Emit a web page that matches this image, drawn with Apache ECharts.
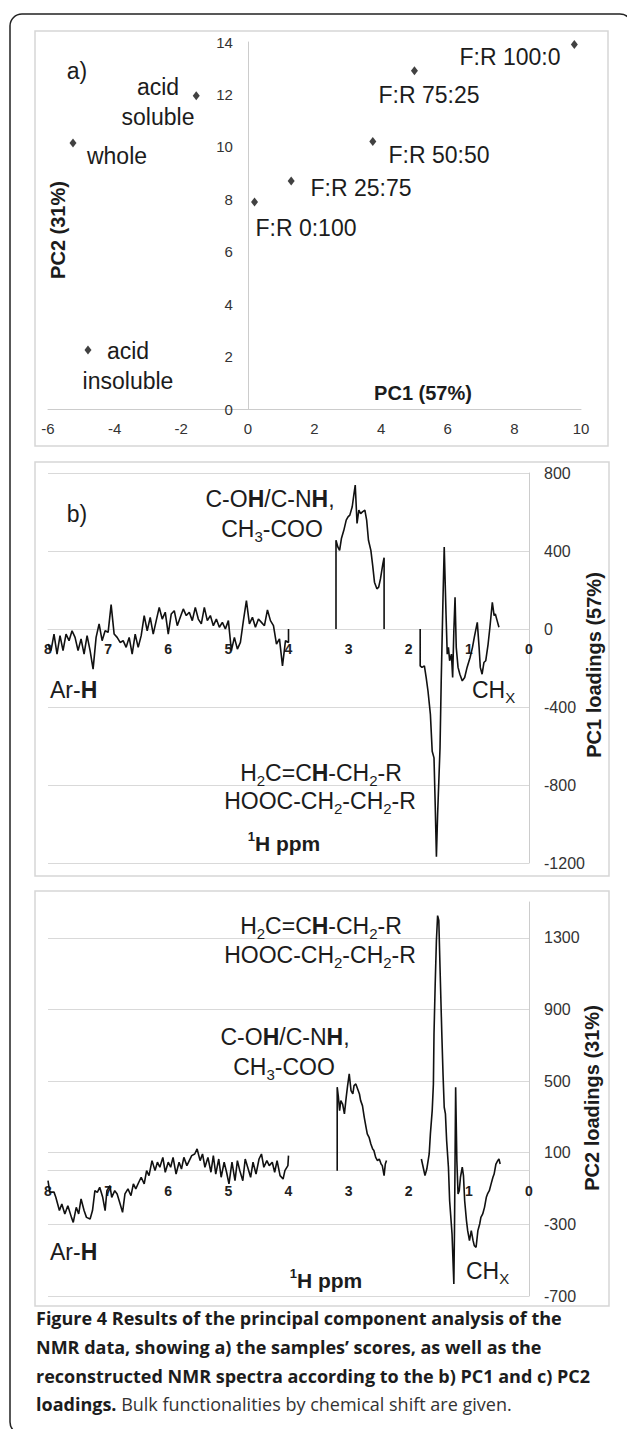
<!DOCTYPE html>
<html>
<head>
<meta charset="utf-8">
<title>Figure 4 - PCA of NMR data</title>
<script src="https://cdn.jsdelivr.net/npm/echarts@6.0.0/dist/echarts.min.js"></script>
<style>
  html, body { margin: 0; padding: 0; background: #fff; }
  #main { width: 627px; height: 1429px; }
</style>
</head>
<body>
<div id="main"></div>
<script>
// a) sample scores
const sampleNames = ['F:R 100:0', 'F:R 75:25', 'F:R 50:50', 'F:R 25:75', 'F:R 0:100', 'acid soluble', 'whole', 'acid insoluble'];
const pc1Scores = [9.8, 5.0, 3.75, 1.3, 0.2, -1.55, -5.25, -4.8];
const pc2Scores = [13.9, 12.9, 10.2, 8.7, 7.9, 11.95, 10.15, 2.25];

// b) PC1 loadings [ppm, value], three spectral windows
const pc1Aromatic = [[8.00,-77],[7.95,-111],[7.90,-26],[7.85,-129],[7.80,-34],[7.75,-111],[7.70,-26],[7.65,-60],[7.60,-9],[7.55,-43],[7.50,-111],[7.45,-51],[7.40,-129],[7.35,-34],[7.30,-111],[7.25,-206],[7.20,-43],[7.15,26],[7.10,-60],[7.05,-9],[7.00,-17],[6.95,125],[6.90,-26],[6.85,-43],[6.80,-69],[6.75,-60],[6.70,-94],[6.65,-43],[6.60,-129],[6.55,-26],[6.50,-94],[6.45,-34],[6.40,69],[6.35,-9],[6.30,60],[6.25,-26],[6.20,43],[6.15,111],[6.10,51],[6.05,86],[6.00,-26],[5.95,77],[5.90,94],[5.85,17],[5.80,60],[5.75,103],[5.70,69],[5.65,86],[5.60,43],[5.55,111],[5.50,51],[5.45,26],[5.40,111],[5.35,43],[5.30,69],[5.25,17],[5.20,51],[5.15,9],[5.10,34],[5.05,0],[5.00,43],[4.95,-111],[4.90,-43],[4.85,-103],[4.80,-69],[4.75,43],[4.70,146],[4.65,26],[4.60,60],[4.55,9],[4.50,51],[4.45,34],[4.40,17],[4.35,98],[4.30,43],[4.25,17],[4.20,-77],[4.15,-51],[4.10,-189],[4.05,-60],[4.00,-69],[4.00,0]];
const pc1Oxygenated = [[3.21,0],[3.21,455],[3.18,421],[3.15,403],[3.12,464],[3.08,506],[3.04,558],[3.01,575],[2.98,584],[2.94,627],[2.91,695],[2.89,738],[2.86,541],[2.83,610],[2.80,592],[2.77,601],[2.73,610],[2.70,558],[2.67,455],[2.63,403],[2.60,326],[2.57,240],[2.53,206],[2.50,215],[2.47,258],[2.43,335],[2.41,366],[2.41,0]];
const pc1Aliphatic = [[1.81,0],[1.81,-189],[1.78,-197],[1.74,-189],[1.71,-249],[1.68,-318],[1.64,-438],[1.61,-627],[1.58,-661],[1.56,-901],[1.54,-1168],[1.52,-953],[1.48,-610],[1.46,-266],[1.43,163],[1.41,421],[1.38,77],[1.36,-129],[1.34,-94],[1.32,-163],[1.29,-129],[1.27,-249],[1.25,-9],[1.23,163],[1.21,-94],[1.18,-197],[1.15,-232],[1.11,-266],[1.07,-249],[1.03,-197],[0.98,-146],[0.94,-94],[0.91,-43],[0.86,34],[0.83,-94],[0.81,-197],[0.78,-232],[0.75,-172],[0.72,-163],[0.68,-77],[0.65,9],[0.61,137],[0.58,69],[0.56,77],[0.53,43],[0.50,9]];

// c) PC2 loadings [ppm, value]
const pc2Aromatic = [[8.00,-56],[7.97,-120],[7.90,-120],[7.87,-149],[7.81,-223],[7.77,-186],[7.72,-242],[7.67,-196],[7.61,-261],[7.58,-289],[7.53,-205],[7.49,-242],[7.45,-158],[7.40,-223],[7.36,-261],[7.30,-270],[7.26,-223],[7.22,-112],[7.18,-121],[7.14,-93],[7.09,-149],[7.05,-223],[7.02,-112],[6.97,-84],[6.94,-149],[6.89,-112],[6.85,-130],[6.80,-186],[6.76,-233],[6.72,-130],[6.67,-102],[6.62,-140],[6.58,-74],[6.54,-102],[6.49,-65],[6.45,-37],[6.40,-74],[6.36,0],[6.32,-28],[6.27,56],[6.22,0],[6.18,47],[6.14,19],[6.09,74],[6.05,-9],[6.00,47],[5.96,19],[5.92,74],[5.87,-19],[5.82,47],[5.78,9],[5.74,74],[5.69,28],[5.65,56],[5.61,84],[5.56,93],[5.52,121],[5.47,56],[5.43,93],[5.39,19],[5.34,74],[5.29,-9],[5.25,84],[5.21,-19],[5.16,65],[5.12,-37],[5.07,47],[5.03,-9],[4.99,-74],[4.94,47],[4.89,-56],[4.85,56],[4.81,0],[4.76,-56],[4.72,65],[4.67,9],[4.63,-37],[4.59,47],[4.54,-19],[4.49,65],[4.45,93],[4.41,19],[4.36,56],[4.32,28],[4.27,47],[4.23,-9],[4.19,56],[4.14,-28],[4.09,-47],[4.06,0],[4.01,28],[4.00,84]];
const pc2Oxygenated = [[3.19,0],[3.19,466],[3.17,410],[3.15,335],[3.13,391],[3.10,372],[3.07,317],[3.04,410],[3.02,466],[2.99,540],[2.96,447],[2.93,428],[2.91,475],[2.88,484],[2.85,456],[2.82,428],[2.80,391],[2.77,363],[2.74,298],[2.71,242],[2.69,205],[2.66,186],[2.63,149],[2.60,121],[2.58,112],[2.55,74],[2.52,56],[2.49,65],[2.46,37],[2.44,28],[2.41,-28],[2.39,37],[2.37,56]];
const pc2Aliphatic = [[1.79,65],[1.76,19],[1.73,-28],[1.70,9],[1.66,93],[1.64,205],[1.61,335],[1.59,484],[1.58,763],[1.56,1043],[1.54,1285],[1.52,1424],[1.50,1397],[1.48,1136],[1.45,763],[1.43,540],[1.41,354],[1.39,317],[1.37,168],[1.34,19],[1.32,-168],[1.30,-261],[1.28,-354],[1.25,-633],[1.24,-354],[1.22,466],[1.20,56],[1.18,-130],[1.16,-112],[1.14,-37],[1.11,19],[1.09,-28],[1.07,-168],[1.04,-279],[1.02,-335],[0.99,-391],[0.96,-335],[0.93,-391],[0.91,-419],[0.88,-428],[0.85,-335],[0.82,-298],[0.80,-261],[0.77,-242],[0.74,-205],[0.71,-149],[0.69,-130],[0.66,-112],[0.63,-74],[0.60,-37],[0.58,-19],[0.55,37],[0.52,56],[0.50,65],[0.48,37]];

// axis ticks
const pc2LoadTicks = [-700, -300, 100, 500, 900, 1300];

const chartFont = 'Liberation Sans, Arial, sans-serif';
const ink = '#1c1c1c';
const gridGray = '#d9d9d9';
const axisGray = '#cccccc';

// grid boxes (px)
const gA = {left: 48, top: 42, width: 533, height: 367};
const gB = {left: 48, top: 473, width: 481, height: 390};
const gC = {left: 48, top: 902, width: 481, height: 394};

let myChart = echarts.init(document.getElementById('main'), null, {renderer: 'svg'});

// the crossing axes sit at zero: shift them in from the grid edge
const yZeroShiftA = -gA.width * (0 - (-6)) / (10 - (-6));
const xZeroShiftB = -gB.height * (0 - (-1200)) / (800 - (-1200));
const xZeroShiftC = -gC.height * (0 - (-700)) / (1500 - (-700));

// small helpers for the annotations
function txt(x, y, text, extra) {
  const style = Object.assign({
    text: text, fill: ink, fontFamily: chartFont, fontSize: 23,
    align: 'center', textAlign: 'center', verticalAlign: 'middle', textVerticalAlign: 'middle'
  }, extra || {});
  return {type: 'text', x: x, y: y, z: 10, silent: true, style: style};
}
function vtxt(x, y, text) {
  const el = txt(x, y, text, {fontSize: 20, fontWeight: 'bold'});
  el.rotation = Math.PI / 2;
  return el;
}
const chem = {
  b: {fontSize: 23, fontWeight: 'bold', fontFamily: chartFont, fill: ink, color: ink, lineHeight: 30},
  s: {fontSize: 15, fontFamily: chartFont, fill: ink, color: ink, lineHeight: 15, verticalAlign: 'bottom'}
};
function ctxt(x, y, text, align) {
  return txt(x, y, text, {rich: chem, lineHeight: 30, align: align || 'center', textAlign: align || 'center'});
}
function ppmLabel(x, y) {
  return txt(x, y, '{u|1}H ppm', {
    fontSize: 21, fontWeight: 'bold', lineHeight: 26,
    rich: {u: {fontSize: 13, fontWeight: 'bold', fontFamily: chartFont, fill: ink, color: ink, lineHeight: 13, verticalAlign: 'top'}}
  });
}
function box(x, y, w, h) {
  return {type: 'rect', z: 0, silent: true, shape: {x: x, y: y, width: w, height: h},
    style: {fill: 'none', stroke: '#d6d6d6', lineWidth: 1.5}};
}
function capLine(y, text, extra) {
  return txt(36, y, text, Object.assign({fontFamily: 'Open Sans, sans-serif', fontSize: 18, fontWeight: 'bold',
    align: 'left', textAlign: 'left'}, extra || {}));
}

function spectrum(data, idx) {
  return {
    type: 'line', xAxisIndex: idx, yAxisIndex: idx, data: data,
    showSymbol: false, symbol: 'none', silent: true,
    lineStyle: {color: '#111', width: 1.6}
  };
}

const loadXAxis = (idx, shift) => ({
  gridIndex: idx, type: 'value', min: 0, max: 8, interval: 1, inverse: true,
  position: 'bottom', offset: shift,
  axisLine: {onZero: false, lineStyle: {color: gridGray}},
  axisTick: {show: false}, splitLine: {show: false},
  axisLabel: {margin: 13, fontSize: 14, fontWeight: 'bold', color: '#222', fontFamily: chartFont}
});
const plainNum = (v) => String(v);

let option = {
  animation: false,
  backgroundColor: '#fff',
  grid: [gA, gB, gC],
  xAxis: [
    {
      gridIndex: 0, type: 'value', min: -6, max: 10, interval: 2,
      axisLine: {onZero: false, lineStyle: {color: axisGray}},
      axisTick: {show: false}, splitLine: {show: false},
      axisLabel: {margin: 12, fontSize: 15, color: '#333', fontFamily: chartFont}
    },
    loadXAxis(1, xZeroShiftB),
    loadXAxis(2, xZeroShiftC)
  ],
  yAxis: [
    {
      gridIndex: 0, type: 'value', min: 0, max: 14, interval: 2,
      position: 'left', offset: yZeroShiftA,
      axisLine: {onZero: false, lineStyle: {color: axisGray}},
      axisTick: {show: false}, splitLine: {show: false},
      axisLabel: {margin: 15, fontSize: 15, color: '#333', fontFamily: chartFont}
    },
    {
      gridIndex: 1, type: 'value', position: 'right', min: -1200, max: 800, interval: 400,
      axisLine: {show: true, onZero: false, lineStyle: {color: axisGray}},
      axisTick: {show: false},
      splitLine: {show: true, lineStyle: {color: gridGray, width: 1}},
      axisLabel: {margin: 15, fontSize: 16, color: '#333', fontFamily: chartFont, formatter: plainNum}
    },
    {
      gridIndex: 2, type: 'value', position: 'right', min: -700, max: 1500,
      axisLine: {show: true, onZero: false, lineStyle: {color: axisGray}},
      axisTick: {show: false, customValues: pc2LoadTicks},
      splitLine: {show: true, lineStyle: {color: gridGray, width: 1}},
      axisLabel: {margin: 15, fontSize: 16, color: '#333', fontFamily: chartFont, customValues: pc2LoadTicks, formatter: plainNum}
    }
  ],
  series: [
    {
      type: 'scatter', xAxisIndex: 0, yAxisIndex: 0, silent: true,
      data: pc1Scores.map((v, i) => [v, pc2Scores[i]]),
      symbol: 'diamond', symbolSize: [7, 9],
      itemStyle: {color: '#111'}
    },
    spectrum(pc1Aromatic, 1),
    spectrum(pc1Oxygenated, 1),
    spectrum(pc1Aliphatic, 1),
    spectrum(pc2Aromatic, 2),
    spectrum(pc2Oxygenated, 2),
    spectrum(pc2Aliphatic, 2)
  ],
  graphic: [
    {type: 'rect', z: 0, silent: true, shape: {x: 10, y: 14, width: 622, height: 1420, r: 12},
      style: {fill: 'none', stroke: '#222', lineWidth: 1.5}},
    box(35, 31, 573, 415),
    box(35, 462, 574, 414),
    box(35, 891, 574, 415),

    // a) scores
    txt(77, 71, 'a)'),
    txt(510, 57, sampleNames[0]),
    txt(429, 95, sampleNames[1]),
    txt(439, 155, sampleNames[2]),
    txt(361, 188, sampleNames[3]),
    txt(306, 228, sampleNames[4]),
    txt(158, 102, 'acid\nsoluble', {lineHeight: 30}),
    txt(117, 156, sampleNames[6]),
    txt(128, 366, 'acid\ninsoluble', {lineHeight: 30}),
    txt(423, 393, 'PC1 (57%)', {fontSize: 20, fontWeight: 'bold'}),
    vtxt(58, 230, 'PC2 (31%)'),

    // b) PC1 loadings
    txt(77, 514, 'b)'),
    ctxt(270, 499, 'C-O{b|H}/C-N{b|H},'),
    ctxt(272, 529, 'CH{s|3}-COO'),
    ctxt(50, 690, 'Ar-{b|H}', 'left'),
    ctxt(472, 690, 'CH{s|X}', 'left'),
    ctxt(321, 773, 'H{s|2}C=C{b|H}-CH{s|2}-R'),
    ctxt(320, 801, 'HOOC-CH{s|2}-CH{s|2}-R'),
    ppmLabel(284, 843),
    vtxt(594, 665, 'PC1 loadings (57%)'),

    // c) PC2 loadings
    ctxt(321, 926, 'H{s|2}C=C{b|H}-CH{s|2}-R'),
    ctxt(320, 955, 'HOOC-CH{s|2}-CH{s|2}-R'),
    ctxt(285, 1037, 'C-O{b|H}/C-N{b|H},'),
    ctxt(284, 1067, 'CH{s|3}-COO'),
    ctxt(50, 1252, 'Ar-{b|H}', 'left'),
    ctxt(466, 1271, 'CH{s|X}', 'left'),
    ppmLabel(326, 1280),
    vtxt(592, 1098, 'PC2 loadings (31%)'),

    // caption
    capLine(1318, 'Figure 4 Results of the principal component analysis of the'),
    capLine(1347, 'NMR data, showing a) the samples\u2019 scores, as well as the'),
    capLine(1376, 'reconstructed NMR spectra according to the b) PC1 and c) PC2'),
    capLine(1404, '{b|loadings.} Bulk functionalities by chemical shift are given.', {
      fontWeight: 'normal', fill: '#333',
      rich: {b: {fontFamily: 'Open Sans, sans-serif', fontSize: 18, fontWeight: 'bold', fill: ink, color: ink}}
    })
  ]
};

option && myChart.setOption(option);
</script>
</body>
</html>
